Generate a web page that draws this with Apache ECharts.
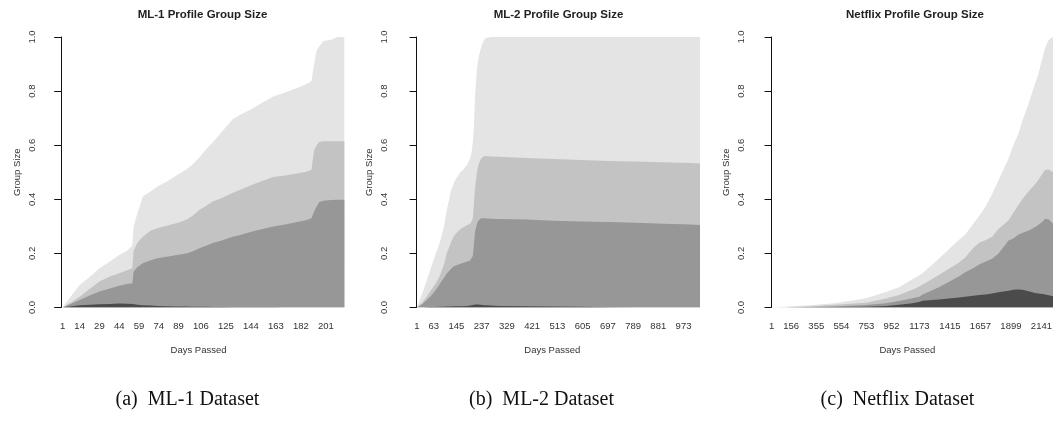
<!DOCTYPE html>
<html>
<head>
<meta charset="utf-8">
<script src="https://cdn.jsdelivr.net/npm/echarts@6/dist/echarts.min.js"></script>
<style>
html,body{margin:0;padding:0;background:#fff;}
#chart{width:1055px;height:421px;}
</style>
</head>
<body>
<div id="chart"></div>
<script>
// ---------- DATA (cumulative tops of stacked groups) ----------
const titles = ['ML-1 Profile Group Size', 'ML-2 Profile Group Size', 'Netflix Profile Group Size'];
const captions = ['(a)  ML-1 Dataset', '(b)  ML-2 Dataset', '(c)  Netflix Dataset'];
const yTicks = [0, 0.2, 0.4, 0.6, 0.8, 1.0];

const ml1Ticks = [1, 14, 29, 44, 59, 74, 89, 106, 125, 144, 163, 182, 201];
const ml1Days = [1, 8, 14, 22, 29, 37, 44, 50, 54, 55, 58, 62, 68, 73, 80, 88, 95, 100, 105, 110, 115, 122, 130, 136, 145, 152, 161, 170, 181, 186, 190, 192, 194, 196, 199, 205, 210, 215];
const ml1Light = [0, 0.045, 0.083, 0.115, 0.145, 0.17, 0.194, 0.21, 0.228, 0.30, 0.35, 0.41, 0.43, 0.447, 0.465, 0.49, 0.51, 0.53, 0.555, 0.585, 0.61, 0.65, 0.695, 0.713, 0.735, 0.755, 0.78, 0.795, 0.815, 0.825, 0.836, 0.9, 0.95, 0.965, 0.985, 0.99, 1.0, 1.0];
const ml1Mid = [0, 0.02, 0.04, 0.07, 0.096, 0.115, 0.127, 0.138, 0.145, 0.21, 0.24, 0.262, 0.285, 0.293, 0.302, 0.312, 0.324, 0.34, 0.361, 0.375, 0.392, 0.405, 0.423, 0.435, 0.454, 0.467, 0.482, 0.488, 0.497, 0.502, 0.509, 0.58, 0.60, 0.612, 0.615, 0.615, 0.615, 0.615];
const ml1Dark = [0, 0.015, 0.028, 0.045, 0.059, 0.07, 0.08, 0.087, 0.09, 0.133, 0.15, 0.164, 0.175, 0.182, 0.188, 0.194, 0.2, 0.208, 0.219, 0.228, 0.238, 0.248, 0.262, 0.268, 0.281, 0.289, 0.299, 0.307, 0.318, 0.323, 0.33, 0.355, 0.373, 0.39, 0.395, 0.397, 0.398, 0.398];
const ml1Darkest = [0, 0.005, 0.008, 0.01, 0.012, 0.013, 0.015, 0.014, 0.013, 0.012, 0.01, 0.008, 0.007, 0.006, 0.005, 0.004, 0.004, 0.003, 0.003, 0.003, 0.002, 0.002, 0.001, 0.001, 0.001, 0.001, 0.001, 0, 0, 0, 0, 0, 0, 0, 0, 0, 0, 0];

const ml2Ticks = [1, 63, 145, 237, 329, 421, 513, 605, 697, 789, 881, 973];
const ml2Days = [1, 20, 37, 50, 70, 86, 100, 110, 125, 134, 140, 160, 171, 185, 195, 200, 205, 208, 213, 220, 225, 232, 240, 250, 270, 300, 400, 500, 600, 700, 800, 900, 1000, 1033];
const ml2Light = [0, 0.05, 0.10, 0.14, 0.20, 0.245, 0.30, 0.36, 0.43, 0.455, 0.47, 0.50, 0.51, 0.53, 0.55, 0.57, 0.61, 0.65, 0.78, 0.88, 0.92, 0.95, 0.975, 0.995, 1.0, 1.0, 1.0, 1.0, 1.0, 1.0, 1.0, 1.0, 1.0, 1.0];
const ml2Mid = [0, 0.018, 0.04, 0.06, 0.09, 0.12, 0.16, 0.20, 0.24, 0.26, 0.27, 0.29, 0.297, 0.305, 0.31, 0.318, 0.33, 0.37, 0.44, 0.50, 0.525, 0.545, 0.555, 0.56, 0.558, 0.557, 0.553, 0.549, 0.545, 0.542, 0.54, 0.537, 0.534, 0.532];
const ml2Dark = [0, 0.012, 0.028, 0.04, 0.065, 0.09, 0.11, 0.126, 0.142, 0.152, 0.156, 0.162, 0.165, 0.17, 0.174, 0.176, 0.19, 0.22, 0.28, 0.31, 0.32, 0.328, 0.33, 0.33, 0.328, 0.327, 0.325, 0.321, 0.318, 0.316, 0.313, 0.31, 0.307, 0.305];
const ml2Darkest = [0, 0, 0.001, 0.002, 0.002, 0.003, 0.003, 0.004, 0.004, 0.005, 0.005, 0.005, 0.005, 0.006, 0.007, 0.008, 0.009, 0.01, 0.011, 0.012, 0.011, 0.01, 0.009, 0.008, 0.007, 0.006, 0.005, 0.004, 0.003, 0.001, 0, 0, 0, 0];

const nfTicks = [1, 156, 355, 554, 753, 952, 1173, 1415, 1657, 1899, 2141];
const nfDays = [1, 100, 300, 500, 750, 907, 1012, 1117, 1170, 1200, 1327, 1485, 1537, 1600, 1650, 1700, 1750, 1800, 1880, 1918, 1960, 1990, 2040, 2089, 2115, 2150, 2170, 2200, 2210, 2233];
const nfLight = [0, 0.003, 0.008, 0.016, 0.034, 0.057, 0.075, 0.104, 0.118, 0.128, 0.18, 0.25, 0.27, 0.31, 0.34, 0.375, 0.42, 0.47, 0.55, 0.6, 0.645, 0.69, 0.755, 0.825, 0.86, 0.925, 0.96, 0.99, 0.995, 1.0];
const nfMid = [0, 0.001, 0.004, 0.01, 0.018, 0.033, 0.046, 0.066, 0.077, 0.085, 0.12, 0.165, 0.185, 0.22, 0.24, 0.25, 0.262, 0.29, 0.323, 0.35, 0.38, 0.40, 0.43, 0.455, 0.47, 0.495, 0.508, 0.51, 0.508, 0.50];
const nfDark = [0, 0, 0.002, 0.004, 0.009, 0.016, 0.024, 0.034, 0.04, 0.048, 0.075, 0.115, 0.13, 0.145, 0.16, 0.17, 0.18, 0.2, 0.248, 0.255, 0.27, 0.275, 0.285, 0.297, 0.305, 0.318, 0.328, 0.325, 0.32, 0.31];
const nfDarkest = [0, 0, 0.001, 0.002, 0.003, 0.006, 0.01, 0.016, 0.02, 0.025, 0.03, 0.037, 0.04, 0.043, 0.046, 0.048, 0.052, 0.056, 0.062, 0.066, 0.067, 0.066, 0.06, 0.054, 0.052, 0.05, 0.048, 0.045, 0.044, 0.042];

// ---------- STYLE / LAYOUT ----------
const layerColors = ['#e4e4e4', '#c3c3c3', '#979797', '#4b4b4b'];
const panels = [
  { days: ml1Days, layers: [ml1Light, ml1Mid, ml1Dark, ml1Darkest], ticks: ml1Ticks, left: 52, width: 293, min: -7, max: 215.5, center: 202.5 },
  { days: ml2Days, layers: [ml2Light, ml2Mid, ml2Dark, ml2Darkest], ticks: ml2Ticks, left: 404.5, width: 295.5, min: -44, max: 1033, center: 558.5 },
  { days: nfDays, layers: [nfLight, nfMid, nfDark, nfDarkest], ticks: nfTicks, left: 761.7, width: 293.3, min: -78, max: 2233, center: 915 }
];
const captionCenters = [187.5, 541.5, 897.5];

const gridTop = 37;
const gridHeight = 270.5;
const sans = 'Liberation Sans, Arial, Helvetica, sans-serif';

const grids = [], xAxes = [], yAxes = [], series = [], graphics = [];
panels.forEach((p, i) => {
  grids.push({ left: p.left, top: gridTop, width: p.width, height: gridHeight, containLabel: false });
  xAxes.push({
    type: 'value', gridIndex: i, min: p.min, max: p.max,
    name: 'Days Passed', nameLocation: 'middle', nameGap: 38,
    nameTextStyle: { fontFamily: sans, fontSize: 9.5, color: '#333' },
    axisLine: { show: false }, axisTick: { show: false, customValues: p.ticks },
    splitLine: { show: false },
    axisLabel: { customValues: p.ticks, fontFamily: sans, fontSize: 9.5, color: '#333', margin: 14, formatter: v => String(v) }
  });
  yAxes.push({
    type: 'value', gridIndex: i, min: 0, max: 1, interval: 0.2,
    name: 'Group Size', nameLocation: 'middle', nameGap: 30, nameRotate: 90,
    nameTextStyle: { fontFamily: sans, fontSize: 9.5, color: '#333' },
    axisLine: { show: true, lineStyle: { color: '#111', width: 1 } },
    axisTick: { show: true, length: 7, lineStyle: { color: '#111' } },
    splitLine: { show: false },
    axisLabel: { rotate: 90, margin: 15, fontFamily: sans, fontSize: 9.5, color: '#333', formatter: v => v.toFixed(1) }
  });
  p.layers.forEach((vals, k) => {
    series.push({
      type: 'line', xAxisIndex: i, yAxisIndex: i,
      data: p.days.map((d, j) => [d, vals[j]]),
      showSymbol: false, symbol: 'none', silent: true,
      lineStyle: { width: 0, color: layerColors[k] },
      areaStyle: { color: layerColors[k], opacity: 1 },
      z: 2 + k
    });
  });
  graphics.push({
    type: 'text', x: p.center, y: 15,
    style: { text: titles[i], textAlign: 'center', textVerticalAlign: 'middle',
      font: 'bold 11.5px "Liberation Sans", Arial, sans-serif', fill: '#222' }
  });
  graphics.push({
    type: 'text', x: captionCenters[i], y: 400,
    style: { text: captions[i], textAlign: 'center', textVerticalAlign: 'middle',
      font: '20px "Liberation Serif", "Times New Roman", serif', fill: '#111' }
  });
});

const chart = echarts.init(document.getElementById('chart'), null, { renderer: 'canvas' });
chart.setOption({
  animation: false,
  backgroundColor: '#fff',
  grid: grids,
  xAxis: xAxes,
  yAxis: yAxes,
  series: series,
  graphic: graphics
});
</script>
</body>
</html>
